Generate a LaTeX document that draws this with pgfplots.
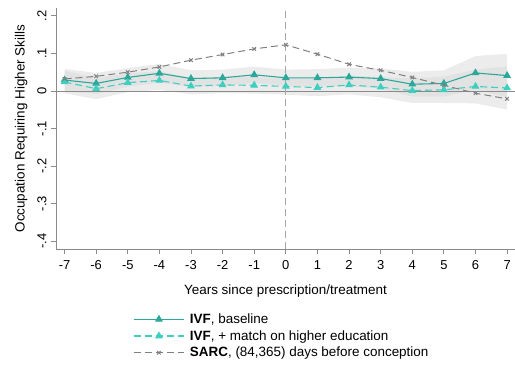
\documentclass[border=0pt]{standalone}
\usepackage{pgfplots}
\pgfplotsset{compat=1.18}
\usepackage{fontspec}
\setmainfont{Liberation Sans}
\usetikzlibrary{plotmarks}
\definecolor{base}{HTML}{2BA89A}
\definecolor{hied}{HTML}{3ECFC0}
\definecolor{sarc}{HTML}{808080}
\definecolor{axgray}{HTML}{8A8A8A}
\begin{document}
\begin{tikzpicture}
\useasboundingbox (-56bp,-119bp) rectangle (459bp,249bp);
\begin{axis}[
  at={(0,0)}, anchor=south west,
  scale only axis, width=459bp, height=241bp,
  xmin=-7.27, xmax=7.25, ymin=-0.421, ymax=0.221,
  axis x line*=bottom, axis y line*=left,
  axis line style={axgray, line width=0.8pt, -},
  /pgf/number format/assume math mode=true,
  xtick={-7,...,7},
  xticklabels={-7,-6,-5,-4,-3,-2,-1,0,1,2,3,4,5,6,7},
  ytick={-0.4,-0.3,-0.2,-0.1,0,0.1,0.2},
  yticklabels={-.4,-.3,-.2,-.1,0,.1,.2},
  yticklabel style={rotate=90, anchor=south, font=\fontsize{13}{15}\selectfont, yshift=1bp},
  xticklabel style={font=\fontsize{13}{15}\selectfont, yshift=-3bp},
  tick style={axgray, line width=0.8pt},
  tick align=outside, major tick length=5bp,
  xlabel={Years since prescription/treatment},
  ylabel={Occupation Requiring Higher Skills},
  label style={font=\fontsize{13.5}{15}\selectfont},
  xlabel style={yshift=-8bp},
  ylabel style={yshift=3bp},
  legend style={at={(0.166,-0.255)}, anchor=north west, draw=none, fill=none,
    font=\fontsize{13.5}{15}\selectfont, row sep=1.5bp, inner sep=1bp},
  legend cell align=left,
  legend image code/.code={\draw[mark repeat=2,mark phase=2] plot coordinates {(0cm,0cm) (0.882cm,0cm) (1.764cm,0cm)};\path[draw=none,fill=none] (1.764cm,0cm) -- ++(4bp,0);},
  clip=false,
]
% bands
\addplot[draw=none, fill=gray!30, fill opacity=0.5, forget plot] coordinates {
(-7,0.059)(-6,0.048)(-5,0.061)(-4,0.072)(-3,0.055)(-2,0.057)(-1,0.065)(0,0.057)(1,0.058)(2,0.062)(3,0.060)(4,0.051)(5,0.055)(6,0.093)(7,0.099)
(7,-0.017)(6,0.003)(5,-0.015)(4,-0.015)(3,0.006)(2,0.012)(1,0.012)(0,0.013)(-1,0.021)(-2,0.013)(-3,0.011)(-4,0.022)(-5,0.011)(-6,-0.008)(-7,-0.001)
} -- cycle;
\addplot[draw=none, fill=gray!30, fill opacity=0.5, forget plot] coordinates {
(-7,0.054)(-6,0.034)(-5,0.047)(-4,0.053)(-3,0.035)(-2,0.038)(-1,0.037)(0,0.034)(1,0.032)(2,0.041)(3,0.037)(4,0.034)(5,0.038)(6,0.057)(7,0.066)
(7,-0.050)(6,-0.033)(5,-0.032)(4,-0.032)(3,-0.017)(2,-0.009)(1,-0.014)(0,-0.010)(-1,-0.007)(-2,-0.006)(-3,-0.009)(-4,0.003)(-5,-0.003)(-6,-0.022)(-7,-0.006)
} -- cycle;
% zero line and vertical line
\addplot[axgray, line width=0.8pt, forget plot] coordinates {(-7.27,0)(7.25,0)};
\addplot[gray!70, line width=1pt, dash pattern=on 7bp off 4bp, forget plot] coordinates {(0,-0.421)(0,0.221)};
% series
\addplot[base, line width=1.1pt, mark=triangle*, mark size=3.5pt, mark options={solid, fill=base}] coordinates {
(-7,0.029)(-6,0.020)(-5,0.036)(-4,0.047)(-3,0.033)(-2,0.035)(-1,0.043)(0,0.035)(1,0.035)(2,0.037)(3,0.033)(4,0.018)(5,0.020)(6,0.048)(7,0.041)};
\addlegendentry{\textbf{IVF}, baseline}
\addplot[hied, line width=1.1pt, dash pattern=on 7bp off 4bp, mark=triangle*, mark size=3.5pt, mark options={solid, fill=hied}] coordinates {
(-7,0.024)(-6,0.006)(-5,0.022)(-4,0.028)(-3,0.013)(-2,0.016)(-1,0.015)(0,0.012)(1,0.009)(2,0.016)(3,0.010)(4,0.001)(5,0.003)(6,0.012)(7,0.008)};
\addlegendentry{\textbf{IVF}, + match on higher education}
\addplot[sarc, line width=1pt, dash pattern=on 7bp off 4bp, mark=x, mark size=2.5pt, mark options={solid}] coordinates {
(-7,0.032)(-6,0.039)(-5,0.050)(-4,0.064)(-3,0.082)(-2,0.097)(-1,0.112)(0,0.123)(1,0.098)(2,0.071)(3,0.055)(4,0.036)(5,0.015)(6,-0.006)(7,-0.021)};
\addlegendentry{\textbf{SARC}, (84,365) days before conception}
\end{axis}
\end{tikzpicture}
\end{document}
